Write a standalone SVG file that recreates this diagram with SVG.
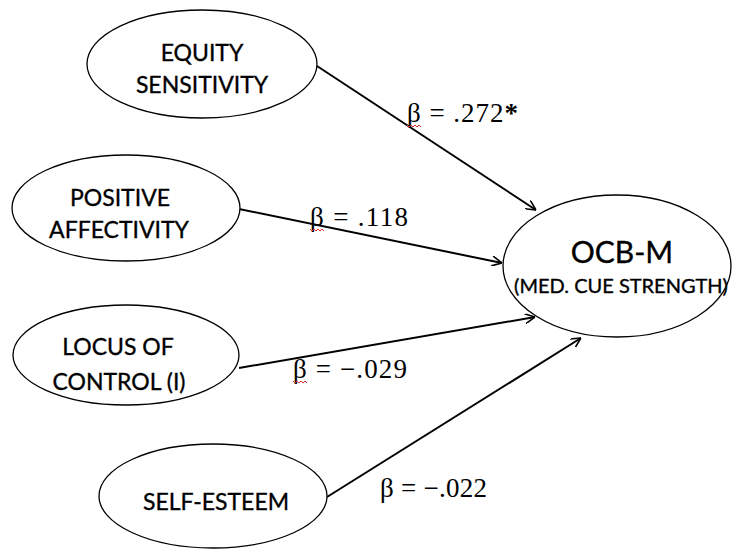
<svg xmlns="http://www.w3.org/2000/svg" width="733" height="553" viewBox="0 0 733 553">
<defs>
<marker id="ah" viewBox="0 0 10 10" refX="10" refY="5" markerWidth="10" markerHeight="10" markerUnits="userSpaceOnUse" orient="auto">
<path d="M0,0 L10,5 L0,10" fill="none" stroke="#000" stroke-width="1.6"/>
</marker>
<style>
.node{fill:#fff;stroke:#000;stroke-width:1.3}
.lbl{font-family:Lato,"Open Sans",sans-serif;font-size:23px;fill:#000;stroke:#000;stroke-width:0.35;text-anchor:middle}
.big{font-size:30px}
.mid{font-size:20px}
.beta{font-family:"Liberation Serif","DejaVu Serif",serif;font-size:27px;fill:#000}
.con{stroke:#000;stroke-width:2;fill:none}
.sq{stroke:#d33;stroke-width:1;fill:none}
</style>
</defs>
<rect width="733" height="553" fill="#fff"/>
<g id="connectors">
<line class="con" x1="317" y1="66" x2="536" y2="210" marker-end="url(#ah)"/>
<line class="con" x1="239" y1="209" x2="502" y2="263" marker-end="url(#ah)"/>
<line class="con" x1="239" y1="368" x2="535" y2="317" marker-end="url(#ah)"/>
<line class="con" x1="327" y1="497" x2="581" y2="338" marker-end="url(#ah)"/>
</g>
<g id="equity">
<ellipse class="node" cx="202" cy="64" rx="115" ry="54"/>
<text class="lbl" x="202" y="61">EQUITY</text>
<text class="lbl" x="202" y="93">SENSITIVITY</text>
</g>
<g id="positive">
<ellipse class="node" cx="126" cy="208" rx="114" ry="53"/>
<text class="lbl" x="120" y="206">POSITIVE</text>
<text class="lbl" x="119" y="238">AFFECTIVITY</text>
</g>
<g id="locus">
<ellipse class="node" cx="126" cy="355" rx="113" ry="50"/>
<text class="lbl" x="118" y="355">LOCUS OF</text>
<text class="lbl" x="119" y="390">CONTROL (I)</text>
</g>
<g id="selfesteem">
<ellipse class="node" cx="213" cy="496" rx="114" ry="52"/>
<text class="lbl" x="216" y="510">SELF-ESTEEM</text>
</g>
<g id="ocbm">
<ellipse class="node" cx="617" cy="266" rx="114" ry="71"/>
<text class="lbl big" x="622" y="263">OCB-M</text>
<text class="lbl mid" x="621" y="293">(MED. CUE STRENGTH)</text>
</g>
<g id="labels">
<text class="beta" x="407" y="122" textLength="111" lengthAdjust="spacing">β = .272<tspan font-weight="bold">*</tspan></text>
<text class="beta" x="310" y="226" textLength="98" lengthAdjust="spacing">β = .118</text>
<text class="beta" x="293" y="378" textLength="114" lengthAdjust="spacing">β = −.029</text>
<text class="beta" x="380" y="497" textLength="107" lengthAdjust="spacing">β = −.022</text>
<path class="sq" d="M407,125 l2,2 l2,-2 l2,2 l2,-2 l2,2 l2,-2 l2,2"/>
<path class="sq" d="M310,229 l2,2 l2,-2 l2,2 l2,-2 l2,2 l2,-2 l2,2"/>
<path class="sq" d="M293,381 l2,2 l2,-2 l2,2 l2,-2 l2,2 l2,-2 l2,2"/>
</g>
</svg>
